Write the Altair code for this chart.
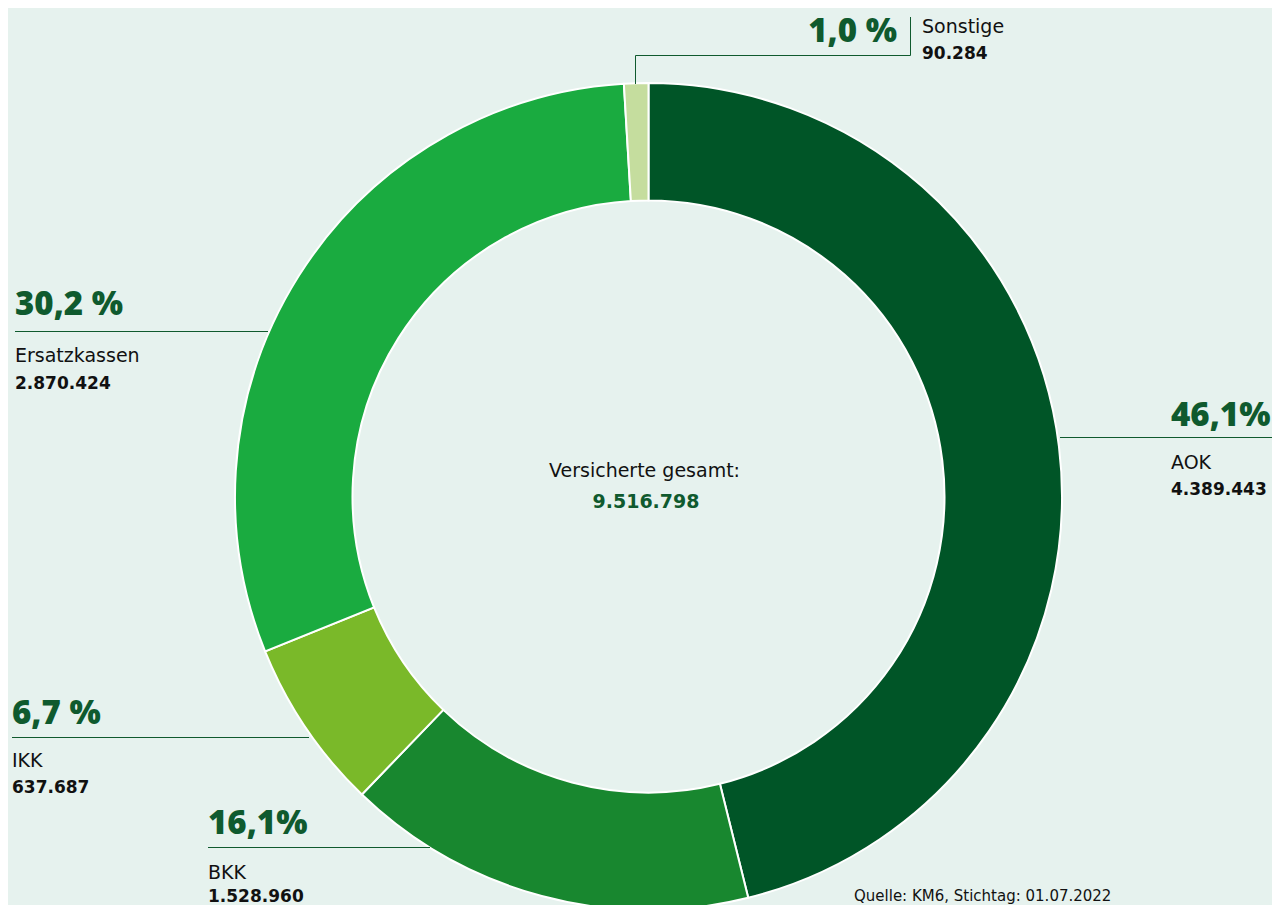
import altair as alt
import pandas as pd

# ---- data ----
categories = ["AOK", "BKK", "IKK", "Ersatzkassen", "Sonstige"]
members = [4389443, 1528960, 637687, 2870424, 90284]
share_labels = ["46,1%", "16,1%", "6,7 %", "30,2 %", "1,0 %"]
member_labels = ["4.389.443", "1.528.960", "637.687", "2.870.424", "90.284"]
total_title = "Versicherte gesamt:"
total_label = "9.516.798"
source_note = "Quelle: KM6, Stichtag: 01.07.2022"

# ---- style ----
slice_colors = ["#005527", "#18872f", "#7ab929", "#1aab40", "#c5dd9e"]
BG = "#e6f2ee"
DARK = "#0f5a2e"
PCT_FONT = "Open Sans"
FONT = "DejaVu Sans"
W, H = 1264, 897
CX, CY = 640.5, 488.5

# label layout (chart pixel positions), per category
pct_pos = {"AOK": (1163, 418), "BKK": (200, 826), "IKK": (4, 716), "Ersatzkassen": (7, 307)}
sonst_pct_pos = (889, 34)
name_pos = {"AOK": (1163, 461), "BKK": (200, 871), "IKK": (4, 759), "Ersatzkassen": (7, 354), "Sonstige": (914, 25)}
val_pos = {"AOK": (1163, 487), "BKK": (200, 894), "IKK": (4, 785), "Ersatzkassen": (7, 381), "Sonstige": (914, 51)}
leader_segments = [
    (1052, 429.5, 1264, 429.5),
    (7, 323.5, 260, 323.5),
    (4, 729.5, 301, 729.5),
    (200, 839.5, 422, 839.5),
    (902.5, 9, 902.5, 47.5),
    (627.5, 47.5, 902.5, 47.5),
    (627.5, 47.5, 627.5, 76),
]

df = pd.DataFrame({"cat": categories, "members": members, "idx": list(range(len(categories)))})

donut = alt.Chart(df).mark_arc(
    outerRadius=413.5, innerRadius=296, stroke="white", strokeWidth=2
).encode(
    theta=alt.Theta("members:Q", stack=True),
    order=alt.Order("idx:Q"),
    color=alt.Color("cat:N", scale=alt.Scale(domain=categories, range=slice_colors), legend=None),
    x=alt.value(CX),
    y=alt.value(CY),
)

pct_df = pd.DataFrame({
    "t": [share_labels[categories.index(c)] for c in pct_pos],
    "x": [p[0] for p in pct_pos.values()],
    "y": [p[1] for p in pct_pos.values()],
})
pct = alt.Chart(pct_df).mark_text(
    align="left", baseline="alphabetic", font=PCT_FONT, fontSize=33, fontWeight=800, color=DARK
).encode(x=alt.X("x:Q", scale=None), y=alt.Y("y:Q", scale=None), text="t:N")

sonst_pct = alt.Chart(pd.DataFrame({"t": [share_labels[4]], "x": [sonst_pct_pos[0]], "y": [sonst_pct_pos[1]]})).mark_text(
    align="right", baseline="alphabetic", font=PCT_FONT, fontSize=33, fontWeight=800, color=DARK
).encode(x=alt.X("x:Q", scale=None), y=alt.Y("y:Q", scale=None), text="t:N")

name_df = pd.DataFrame({
    "t": list(name_pos.keys()),
    "x": [p[0] for p in name_pos.values()],
    "y": [p[1] for p in name_pos.values()],
})
names = alt.Chart(name_df).mark_text(
    align="left", baseline="alphabetic", font=FONT, fontSize=19, color="#111111"
).encode(x=alt.X("x:Q", scale=None), y=alt.Y("y:Q", scale=None), text="t:N")

val_df = pd.DataFrame({
    "t": [member_labels[categories.index(c)] for c in val_pos],
    "x": [p[0] for p in val_pos.values()],
    "y": [p[1] for p in val_pos.values()],
})
vals = alt.Chart(val_df).mark_text(
    align="left", baseline="alphabetic", font=FONT, fontSize=17, fontWeight="bold", color="#111111"
).encode(x=alt.X("x:Q", scale=None), y=alt.Y("y:Q", scale=None), text="t:N")

seg_df = pd.DataFrame(leader_segments, columns=["x", "y", "x2", "y2"])
leaders = alt.Chart(seg_df).mark_rule(color=DARK, strokeWidth=1).encode(
    x=alt.X("x:Q", scale=None), y=alt.Y("y:Q", scale=None),
    x2="x2:Q", y2="y2:Q",
)

center1 = alt.Chart(pd.DataFrame({"t": [total_title]})).mark_text(
    align="center", baseline="alphabetic", font=FONT, fontSize=19, color="#111111"
).encode(x=alt.value(636.5), y=alt.value(469), text="t:N")
center2 = alt.Chart(pd.DataFrame({"t": [total_label]})).mark_text(
    align="center", baseline="alphabetic", font=FONT, fontSize=19, fontWeight="bold", color=DARK
).encode(x=alt.value(638), y=alt.value(500), text="t:N")

source = alt.Chart(pd.DataFrame({"t": [source_note]})).mark_text(
    align="left", baseline="alphabetic", font=FONT, fontSize=15, color="#111111"
).encode(x=alt.value(846), y=alt.value(893), text="t:N")

chart = alt.layer(donut, leaders, pct, sonst_pct, names, vals, center1, center2, source).properties(
    width=W, height=H, padding=0, autosize=alt.AutoSizeParams(type="none"), background=BG
).configure_view(stroke=None)

chart.save("out.html", embed_options={"renderer": "svg", "actions": False})
